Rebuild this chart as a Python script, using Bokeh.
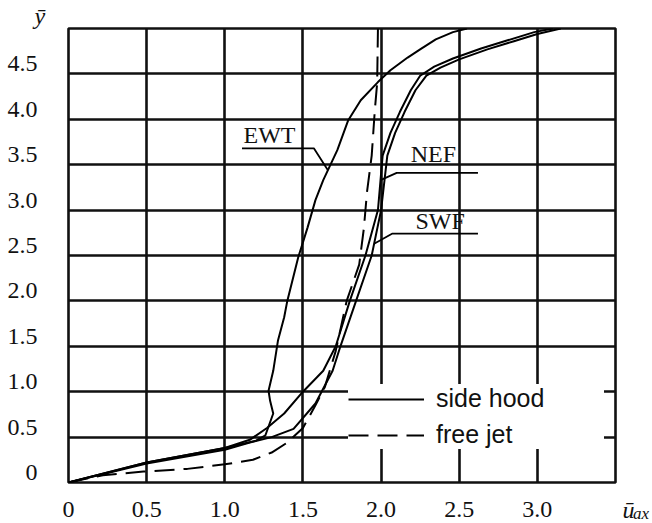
import numpy as np
from bokeh.plotting import figure
from bokeh.models import Range1d, FixedTicker, Legend, LegendItem, Label
from bokeh.embed import file_html
from bokeh.resources import INLINE

# ---------------- data ----------------
x_ticks = [0, 0.5, 1.0, 1.5, 2.0, 2.5, 3.0]
x_tick_labels = ["0", "0.5", "1.0", "1.5", "2.0", "2.5", "3.0"]
y_ticks = [0, 0.5, 1.0, 1.5, 2.0, 2.5, 3.0, 3.5, 4.0, 4.5]
y_tick_labels = ["0", "0.5", "1.0", "1.5", "2.0", "2.5", "3.0", "3.5", "4.0", "4.5"]

ewt_x = [0, 0.5, 1.0, 1.2, 1.26, 1.31, 1.29, 1.28, 1.31, 1.34, 1.38, 1.40, 1.47,
         1.53, 1.58, 1.63, 1.69, 1.72, 1.79, 1.87, 1.98, 2.06, 2.17, 2.25, 2.35,
         2.46, 2.55]
ewt_y = [0, 0.22, 0.38, 0.46, 0.52, 0.76, 0.90, 1.01, 1.23, 1.56, 1.82, 2.0, 2.48,
         2.81, 3.11, 3.33, 3.55, 3.66, 3.99, 4.21, 4.41, 4.54, 4.68, 4.77, 4.88,
         4.96, 5.0]

nef_x = [0, 0.5, 1.0, 1.16, 1.27, 1.38, 1.50, 1.63, 1.71, 1.80, 1.90, 1.98, 2.01,
         2.06, 2.12, 2.19, 2.25, 2.34, 2.46, 2.64, 2.81, 2.98, 3.10]
nef_y = [0, 0.22, 0.38, 0.47, 0.60, 0.76, 1.0, 1.23, 1.5, 2.0, 2.5, 3.0, 3.6,
         3.85, 4.08, 4.32, 4.48, 4.58, 4.67, 4.78, 4.87, 4.96, 5.0]

swf_x = [0, 0.5, 1.0, 1.16, 1.30, 1.44, 1.58, 1.69, 1.74, 1.84, 1.94, 2.00, 2.04,
         2.09, 2.15, 2.22, 2.29, 2.38, 2.50, 2.68, 2.85, 3.00, 3.15]
swf_y = [0, 0.21, 0.36, 0.44, 0.50, 0.59, 0.87, 1.23, 1.5, 2.0, 2.5, 3.0, 3.6,
         3.85, 4.08, 4.32, 4.48, 4.57, 4.66, 4.77, 4.86, 4.94, 5.0]

jet_x = [0, 0.22, 0.48, 0.76, 1.0, 1.18, 1.30, 1.40, 1.50, 1.58, 1.64, 1.71, 1.78,
         1.86, 1.89, 1.91, 1.94, 1.96, 1.975, 1.98]
jet_y = [0, 0.08, 0.12, 0.15, 0.20, 0.25, 0.33, 0.44, 0.60, 0.85, 1.05, 1.45, 2.0,
         2.4, 2.8, 3.2, 3.6, 4.1, 4.4, 5.0]

curve_names = ["EWT", "NEF", "SWF"]
legend_labels = ["side hood", "free jet"]

# ---------------- figure ----------------
p = figure(width=652, height=523, output_backend="svg", toolbar_location=None,
           x_range=Range1d(0, 3.5), y_range=Range1d(0, 5),
           min_border_left=68, min_border_right=37, min_border_top=28,
           min_border_bottom=41)
p.background_fill_color = "white"
p.border_fill_color = "white"
p.outline_line_color = "#111111"
p.outline_line_width = 2.6

SERIF = "Liberation Serif"
for ax in (p.xaxis[0], p.yaxis[0]):
    ax.axis_line_color = None
    ax.major_tick_line_color = None
    ax.minor_tick_line_color = None
    ax.major_label_text_font = SERIF
    ax.major_label_text_font_size = "24px"
    ax.major_label_text_color = "#111111"

p.xaxis.ticker = FixedTicker(ticks=x_ticks)
p.xaxis.major_label_overrides = {float(t): s for t, s in zip(x_ticks, x_tick_labels)}
p.xaxis.major_label_standoff = 13

# y labels sit a little above their grid lines in the reference
LABEL_LIFT = 0.11
y_label_pos = [round(t + LABEL_LIFT, 3) for t in y_ticks]
p.yaxis.ticker = FixedTicker(ticks=y_label_pos)
p.yaxis.major_label_overrides = {float(t): s for t, s in zip(y_label_pos, y_tick_labels)}
p.yaxis.major_label_standoff = 25

p.xgrid.ticker = FixedTicker(ticks=x_ticks[1:])
p.ygrid.ticker = FixedTicker(ticks=y_ticks[1:])
for g in (p.xgrid[0], p.ygrid[0]):
    g.grid_line_color = "#111111"
    g.grid_line_width = 2.6
    g.grid_line_alpha = 1.0

# ---------------- curves ----------------
LW = 2.0
r_ewt = p.line(ewt_x, ewt_y, line_color="black", line_width=LW)
r_nef = p.line(nef_x, nef_y, line_color="black", line_width=LW)
r_swf = p.line(swf_x, swf_y, line_color="black", line_width=LW)
r_jet = p.line(jet_x, jet_y, line_color="black", line_width=LW, line_dash="20 9")

# ---------------- curve labels with leader lines ----------------
def anchor_x(xs, ys, yv):
    return float(np.interp(yv, ys, xs))

# (name, curve, text x, text y, shelf y, shelf start, shelf end, anchor y)
lead = [
    ("EWT", (ewt_x, ewt_y), 1.12, 3.83, 3.68, 1.57, 1.11, 3.44),
    ("NEF", (nef_x, nef_y), 2.19, 3.62, 3.41, 2.10, 2.62, 3.33),
    ("SWF", (swf_x, swf_y), 2.22, 2.88, 2.74, 2.07, 2.62, 2.63),
]
for name, (cx, cy), tx, ty, sy, s0, s1, ay in lead:
    axx = anchor_x(cx, cy, ay)
    p.line([axx, s0, s1], [ay, sy, sy], line_color="black", line_width=1.8)
    p.add_layout(Label(x=tx, y=ty, text=name, text_font=SERIF,
                       text_font_size="24px", text_color="#111111",
                       text_baseline="alphabetic", text_align="left"))

# ---------------- axis symbols (outside the frame) ----------------
p.title.text = "ȳ"
p.title.align = "left"
p.title.offset = -34
p.title.standoff = 0
p.title.text_font = SERIF
p.title.text_font_style = "italic"
p.title.text_font_size = "24px"
p.title.text_color = "#111111"

p.add_layout(Label(x=3.545, y=-0.30, text="ū", text_font=SERIF,
                   text_font_style="italic", text_font_size="24px",
                   text_align="left", text_baseline="alphabetic",
                   text_color="#111111"), "right")
p.add_layout(Label(x=3.612, y=-0.34, text="ax", text_font=SERIF,
                   text_font_style="italic", text_font_size="17px",
                   text_align="left", text_baseline="alphabetic",
                   text_color="#111111"), "right")

# ---------------- legend ----------------
legend = Legend(items=[LegendItem(label=legend_labels[0], renderers=[r_nef]),
                       LegendItem(label=legend_labels[1], renderers=[r_jet])],
                location=(280, 33), orientation="vertical",
                padding=12, margin=0, spacing=7,
                glyph_width=76, glyph_height=28, label_height=28,
                label_width=168, label_standoff=12,
                label_text_font="Liberation Sans", label_text_font_size="25px",
                label_text_color="#111111",
                border_line_color=None, background_fill_color="white",
                background_fill_alpha=1.0)
p.add_layout(legend)

open("out.html", "w").write(file_html(p, INLINE))
